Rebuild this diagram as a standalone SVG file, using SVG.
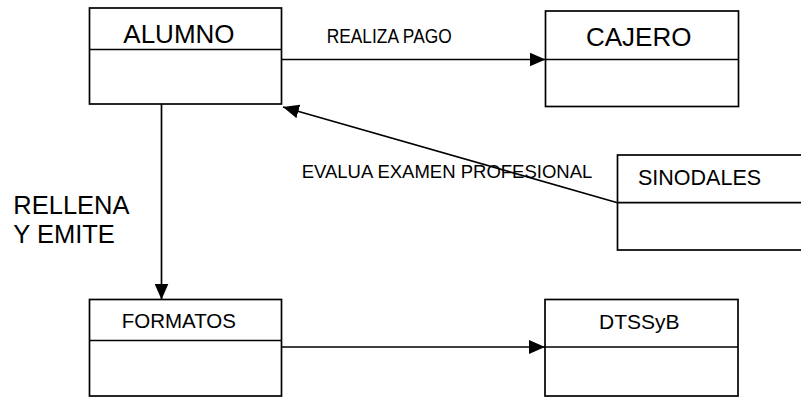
<svg xmlns="http://www.w3.org/2000/svg" width="801" height="397" viewBox="0 0 801 397">
  <style>
    .box { fill: #ffffff; stroke: #000000; stroke-width: 1.7; }
    .div { stroke: #000000; stroke-width: 1.7; fill: none; }
    .lbl { font-family: "Liberation Sans", Arial, sans-serif; fill: #000000; }
    .conn { stroke: #000000; stroke-width: 1.7; fill: none; marker-end: url(#head); }
  </style>
  <defs>
    <marker id="head" viewBox="0 0 16 14" refX="16" refY="7" markerWidth="16" markerHeight="14" markerUnits="userSpaceOnUse" orient="auto">
      <path d="M0,0 L16,7 L0,14 z" fill="#000000"/>
    </marker>
  </defs>

  <rect width="801" height="397" fill="#ffffff"/>

  <!-- connectors and their labels -->
  <g id="connectors">
    <line class="conn" x1="282" y1="59.5" x2="545.5" y2="59.5"/>
    <line class="conn" x1="161.5" y1="104" x2="161.5" y2="299.5"/>
    <line class="conn" x1="282" y1="347" x2="545" y2="347"/>
    <line class="conn" x1="617.5" y1="202.7" x2="283" y2="107"/>
    <text class="lbl" x="326.7" y="42.5" font-size="20" textLength="125" lengthAdjust="spacingAndGlyphs">REALIZA PAGO</text>
    <text class="lbl" x="301.7" y="178.3" font-size="18.5">EVALUA EXAMEN PROFESIONAL</text>
    <text class="lbl" x="13.3" y="214.3" font-size="25.5">RELLENA</text>
    <text class="lbl" x="13.3" y="243.3" font-size="25.5">Y EMITE</text>
  </g>

  <g id="alumno">
    <rect class="box" x="89.5" y="8" width="192" height="96"/>
    <line class="div" x1="89.5" y1="49.5" x2="281.5" y2="49.5"/>
    <text class="lbl" x="123.3" y="42.7" font-size="26">ALUMNO</text>
  </g>

  <g id="cajero">
    <rect class="box" x="545.5" y="11" width="193" height="95.5"/>
    <line class="div" x1="545.5" y1="59.5" x2="738.5" y2="59.5"/>
    <text class="lbl" x="586" y="45.7" font-size="26">CAJERO</text>
  </g>

  <g id="sinodales">
    <rect class="box" x="617.5" y="155" width="200" height="95"/>
    <line class="div" x1="617.5" y1="202.7" x2="817.5" y2="202.7"/>
    <text class="lbl" x="638" y="185" font-size="21.5">SINODALES</text>
  </g>

  <g id="formatos">
    <rect class="box" x="89.5" y="299.5" width="192" height="96.5"/>
    <line class="div" x1="89.5" y1="340.5" x2="281.5" y2="340.5"/>
    <text class="lbl" x="121.7" y="327.7" font-size="20.5">FORMATOS</text>
  </g>

  <g id="dtssyb">
    <rect class="box" x="545" y="299.5" width="193" height="96.5"/>
    <line class="div" x1="545" y1="347" x2="738" y2="347"/>
    <text class="lbl" x="599" y="329.3" font-size="21">DTSSyB</text>
  </g>
</svg>
